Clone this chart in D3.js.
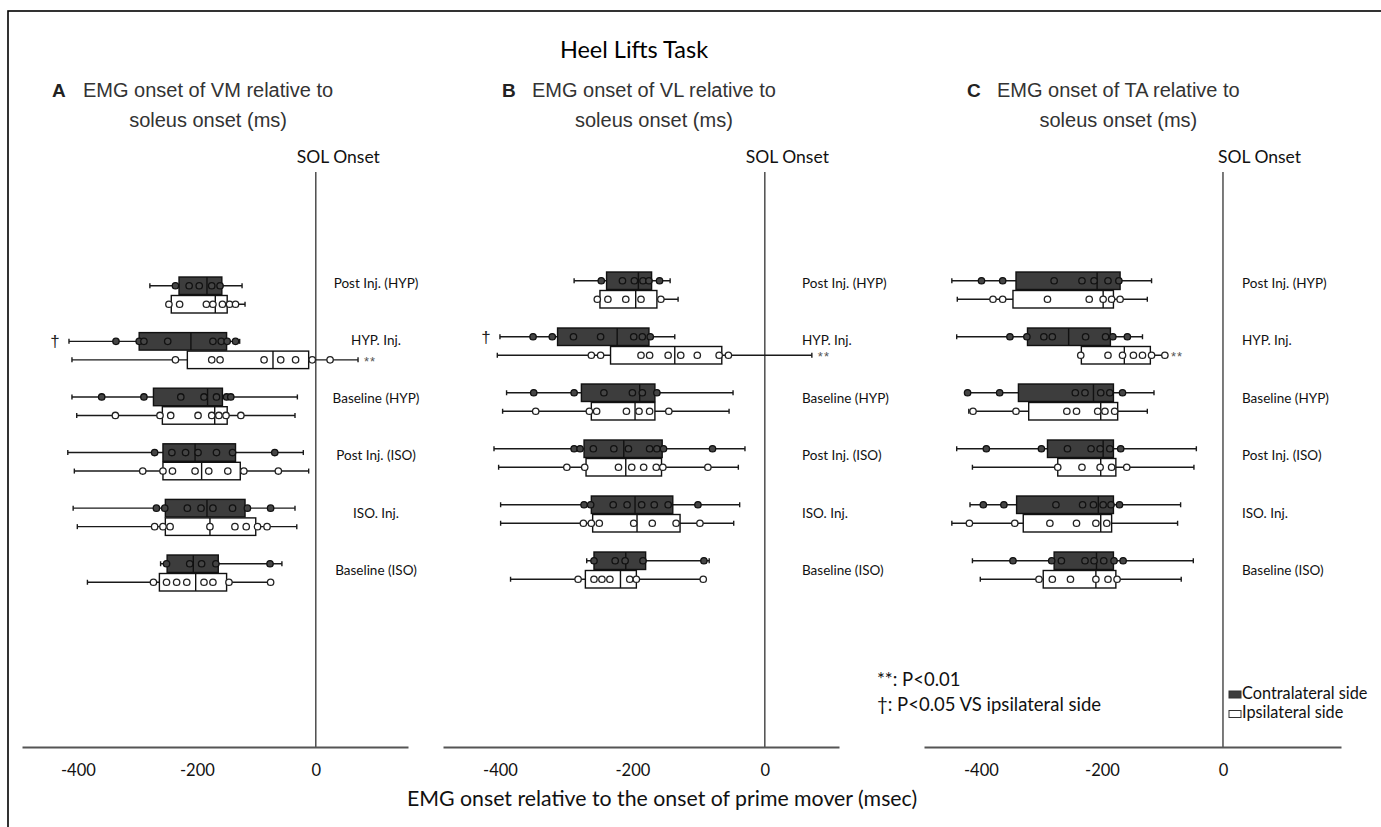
<!DOCTYPE html>
<html>
<head>
<meta charset="utf-8">
<script src="https://cdn.jsdelivr.net/npm/d3@7"></script>
<style>
  html, body { margin: 0; padding: 0; background: #fff; }
  svg { display: block; }
</style>
</head>
<body>
<svg id="chart" width="1381" height="827"></svg>
<script>
// Session categories (top to bottom)
const categories = ["Post Inj. (HYP)", "HYP. Inj.", "Baseline (HYP)", "Post Inj. (ISO)", "ISO. Inj.", "Baseline (ISO)"];
const tickValues = [-400, -200, 0];

// Box statistics per category: [whisker low, Q1, median, Q3, whisker high] (ms)
// A: VM relative to soleus onset
const vmContraStats = [
  [-279, -230, -183, -158, -124],
  [-415, -297, -210, -150, -128],
  [-410, -273, -182, -157, -31],
  [-417, -257, -203, -135, -21],
  [-408, -253, -183, -119, -35],
  [-261, -250, -206, -164, -57]
];
const vmContraPoints = [
  [-236, -213, -196, -175, -161],
  [-336, -297, -289, -249, -173, -159, -149, -135],
  [-360, -289, -227, -188, -167, -150, -143],
  [-271, -242, -219, -198, -167, -140, -69],
  [-268, -254, -216, -193, -173, -140, -115, -76],
  [-251, -212, -192, -168, -77]
];
const vmIpsiStats = [
  [-250, -243, -169, -149, -119],
  [-410, -216, -72, -12, 71],
  [-402, -258, -170, -149, -35],
  [-406, -257, -192, -127, -12],
  [-401, -253, -178, -101, -32],
  [-384, -263, -202, -150, -76]
];
const vmIpsiPoints = [
  [-247, -229, -184, -173, -157, -145, -135],
  [-236, -175, -161, -87, -59, -34, -6, 24],
  [-337, -262, -244, -198, -175, -163, -151, -126],
  [-291, -257, -241, -203, -180, -148, -121, -63],
  [-271, -257, -245, -178, -136, -117, -98, -82],
  [-273, -251, -234, -217, -188, -173, -146, -76]
];

// B: VL relative to soleus onset
const vlContraStats = [
  [-288, -239, -191, -171, -143],
  [-400, -313, -223, -175, -136],
  [-390, -277, -189, -166, -48],
  [-409, -273, -213, -155, -30],
  [-399, -262, -196, -139, -38],
  [-269, -258, -210, -180, -84]
];
const vlContraPoints = [
  [-247, -215, -197, -184, -175, -159],
  [-350, -321, -289, -248, -198, -185, -173],
  [-349, -288, -243, -200, -185, -163],
  [-288, -279, -259, -228, -206, -174, -163, -153, -79],
  [-273, -263, -229, -208, -186, -167, -146, -101],
  [-258, -226, -211, -184, -92]
];
const vlIpsiStats = [
  [-253, -249, -195, -163, -131],
  [-404, -233, -136, -65, 71],
  [-396, -262, -196, -166, -54],
  [-402, -270, -210, -156, -40],
  [-399, -260, -193, -128, -47],
  [-384, -271, -218, -194, -93]
];
const vlIpsiPoints = [
  [-253, -237, -210, -187, -157],
  [-262, -248, -187, -174, -146, -127, -102, -69, -55],
  [-346, -265, -254, -209, -190, -174, -145],
  [-299, -272, -221, -201, -183, -164, -154, -86],
  [-274, -262, -250, -198, -170, -134, -98],
  [-282, -258, -246, -234, -204, -194, -93]
];

// C: TA relative to soleus onset
const taContraStats = [
  [-448, -342, -208, -170, -118],
  [-440, -323, -255, -186, -133],
  [-422, -338, -214, -181, -114],
  [-440, -290, -198, -181, -44],
  [-418, -341, -206, -181, -70],
  [-414, -279, -209, -181, -49]
];
const taContraPoints = [
  [-399, -364, -279, -233, -213, -190, -172],
  [-352, -324, -296, -282, -227, -194, -182, -158],
  [-422, -369, -244, -228, -202, -187, -166],
  [-391, -300, -257, -218, -203, -187, -169],
  [-396, -362, -276, -232, -214, -198, -185, -171],
  [-347, -283, -267, -228, -213, -197, -180, -165]
];
const taIpsiStats = [
  [-439, -347, -198, -181, -125],
  [-235, -234, -163, -120, -96],
  [-420, -321, -202, -174, -125],
  [-414, -273, -202, -177, -48],
  [-448, -330, -202, -184, -75],
  [-401, -297, -210, -177, -69]
];
const taIpsiPoints = [
  [-380, -364, -290, -221, -198, -184, -170],
  [-235, -190, -166, -148, -133, -118, -96],
  [-413, -342, -258, -242, -207, -195, -179],
  [-273, -233, -203, -184, -159],
  [-419, -344, -286, -242, -210, -192],
  [-304, -282, -252, -210, -190, -175]
];

// Significance markers per panel (category of the marked row, or null)
const daggerRows = ["HYP. Inj.", "HYP. Inj.", null];
const starRows = ["HYP. Inj.", "HYP. Inj.", "HYP. Inj."];

const panelLetters = ["A", "B", "C"];
const panelTitles = ["EMG onset of VM relative to", "EMG onset of VL relative to", "EMG onset of TA relative to"];
const panelSubtitle = "soleus onset (ms)";

// Layout of the three panels
const panels = [
  { domain: [-494, 155], range: [22, 408], rowTop: 277, rowStep: 55.6, letterX: 52, titleX: 83,
    labelX: 376, labelAnchor: "middle", solDx: -19,
    contra: vmContraStats, contraPts: vmContraPoints, ipsi: vmIpsiStats, ipsiPts: vmIpsiPoints },
  { domain: [-486, 112], range: [443, 839], rowTop: 272, rowStep: 56, letterX: 502, titleX: 532,
    labelX: 802, labelAnchor: "start", solDx: -19,
    contra: vlContraStats, contraPts: vlContraPoints, ipsi: vlIpsiStats, ipsiPts: vlIpsiPoints },
  { domain: [-494, 195], range: [924, 1341], rowTop: 272, rowStep: 56, letterX: 967, titleX: 997,
    labelX: 1242, labelAnchor: "start", solDx: -5,
    contra: taContraStats, contraPts: taContraPoints, ipsi: taIpsiStats, ipsiPts: taIpsiPoints }
];

const svg = d3.select("#chart");
const calibri = "Lato, 'Open Sans', sans-serif";
const arial = "'Liberation Sans', Arial, sans-serif";
const axisY = 747;
const boxH = 17.5;
const ipsiOffset = 18.5;
const darkFill = "#3d3d3d";

// Outer frame (left and top edges)
svg.append("rect")
  .attr("x", 8).attr("y", 11).attr("width", 1420).attr("height", 900)
  .attr("fill", "none").attr("stroke", "#000").attr("stroke-width", 1.6);

// Main title
svg.append("text")
  .attr("x", 634).attr("y", 58)
  .attr("text-anchor", "middle")
  .attr("font-family", calibri).attr("font-size", 23.5)
  .attr("fill", "#000")
  .text("Heel Lifts Task");

const labelY = d3.scalePoint().domain(categories).range([283, 570]);

panels.forEach((p, pi) => {
  const g = svg.append("g");
  const x = d3.scaleLinear().domain(p.domain).range(p.range);
  const row = d3.scaleBand().domain(categories)
    .range([p.rowTop, p.rowTop + categories.length * p.rowStep]);

  // Panel heading
  g.append("text")
    .attr("x", p.letterX).attr("y", 97)
    .attr("font-family", arial).attr("font-weight", "bold").attr("font-size", 19)
    .attr("fill", "#222")
    .text(panelLetters[pi]);
  const t1 = g.append("text")
    .attr("x", p.titleX).attr("y", 97)
    .attr("font-family", arial).attr("font-size", 20)
    .attr("fill", "#333")
    .text(panelTitles[pi]);
  const w1 = t1.node().getComputedTextLength();
  g.append("text")
    .attr("x", p.titleX + w1 / 2).attr("y", 127)
    .attr("text-anchor", "middle")
    .attr("font-family", arial).attr("font-size", 20)
    .attr("fill", "#333")
    .text(panelSubtitle);

  // Soleus onset reference line
  g.append("line")
    .attr("x1", x(0)).attr("x2", x(0))
    .attr("y1", 172).attr("y2", axisY)
    .attr("stroke", "#333").attr("stroke-width", 1.3);
  g.append("text")
    .attr("x", x(0) + p.solDx).attr("y", 163)
    .attr("font-family", calibri).attr("font-size", 17.5)
    .attr("fill", "#111")
    .text("SOL Onset");

  // X axis
  const axis = d3.axisBottom(x).tickValues(tickValues).tickSize(0).tickPadding(17)
    .tickFormat(d => String(d));
  const ax = g.append("g").attr("transform", `translate(0,${axisY})`).call(axis);
  ax.select(".domain").attr("stroke", "#555").attr("stroke-width", 2);
  ax.selectAll(".tick text")
    .attr("font-family", calibri).attr("font-size", 16.5).attr("fill", "#111");

  // Category labels
  g.selectAll("text.cat").data(categories).join("text")
    .attr("class", "cat")
    .attr("x", p.labelX).attr("y", d => labelY(d) + 5)
    .attr("text-anchor", p.labelAnchor)
    .attr("font-family", calibri).attr("font-size", 13.5)
    .attr("fill", "#111")
    .text(d => d);

  // Box plots: contralateral (dark, upper) and ipsilateral (white, lower)
  const series = [
    { stats: p.contra, pts: p.contraPts, dy: 0, fill: darkFill, ptFill: "#454545", ptStroke: "#111" },
    { stats: p.ipsi, pts: p.ipsiPts, dy: ipsiOffset, fill: "#fff", ptFill: "#fff", ptStroke: "#222" }
  ];
  series.forEach(s => {
    categories.forEach((c, ci) => {
      const [lo, q1, med, q3, hi] = s.stats[ci];
      const top = row(c) + s.dy;
      const cy = top + boxH / 2;
      const bg = g.append("g");
      bg.append("line")
        .attr("x1", x(lo)).attr("x2", x(hi)).attr("y1", cy).attr("y2", cy)
        .attr("stroke", "#1a1a1a").attr("stroke-width", 1.4);
      [lo, hi].forEach(v => {
        bg.append("line")
          .attr("x1", x(v)).attr("x2", x(v)).attr("y1", cy - 2.5).attr("y2", cy + 2.5)
          .attr("stroke", "#1a1a1a").attr("stroke-width", 1.4);
      });
      bg.append("rect")
        .attr("x", x(q1)).attr("y", top)
        .attr("width", x(q3) - x(q1)).attr("height", boxH)
        .attr("fill", s.fill).attr("stroke", "#111").attr("stroke-width", 1.4);
      bg.append("line")
        .attr("x1", x(med)).attr("x2", x(med)).attr("y1", top).attr("y2", top + boxH)
        .attr("stroke", "#111").attr("stroke-width", 1.4);
      bg.selectAll("circle").data(s.pts[ci]).join("circle")
        .attr("cx", d => x(d)).attr("cy", cy).attr("r", 3.2)
        .attr("fill", s.ptFill).attr("stroke", s.ptStroke).attr("stroke-width", 1.3);
    });
  });

  // Significance markers
  if (daggerRows[pi]) {
    const ci = categories.indexOf(daggerRows[pi]);
    g.append("text")
      .attr("x", x(p.contra[ci][0]) - 14).attr("y", row(daggerRows[pi]) + boxH / 2 + 6)
      .attr("text-anchor", "middle")
      .attr("font-family", arial).attr("font-size", 17).attr("fill", "#222")
      .text("\u2020");
  }
  if (starRows[pi]) {
    const ci = categories.indexOf(starRows[pi]);
    g.append("text")
      .attr("x", x(p.ipsi[ci][4]) + 6).attr("y", row(starRows[pi]) + ipsiOffset + boxH / 2 + 6)
      .attr("font-family", arial).attr("font-size", 13).attr("fill", "#555")
      .attr("letter-spacing", 1)
      .text("**");
  }
});

// Axis title
svg.append("text")
  .attr("x", 662).attr("y", 806)
  .attr("text-anchor", "middle")
  .attr("font-family", calibri).attr("font-size", 21.3).attr("fill", "#111")
  .text("EMG onset relative to the onset of prime mover (msec)");

// Significance key
svg.append("text")
  .attr("x", 877).attr("y", 686)
  .attr("font-family", calibri).attr("font-size", 18.5).attr("fill", "#111")
  .text("**: P<0.01");
svg.append("text")
  .attr("x", 877).attr("y", 711)
  .attr("font-family", calibri).attr("font-size", 18.5).attr("fill", "#111")
  .text("\u2020: P<0.05 VS ipsilateral side");

// Side legend
const legendItems = ["Contralateral side", "Ipsilateral side"];
const legendFills = [darkFill, "#fff"];
legendItems.forEach((name, i) => {
  svg.append("rect")
    .attr("x", 1229).attr("y", 691 + i * 19.5).attr("width", 12).attr("height", 7)
    .attr("fill", legendFills[i]).attr("stroke", "#333").attr("stroke-width", 1);
  svg.append("text")
    .attr("x", 1242).attr("y", 698.5 + i * 19.5)
    .attr("font-family", calibri).attr("font-size", 16.3).attr("fill", "#111")
    .text(name);
});
</script>
</body>
</html>
